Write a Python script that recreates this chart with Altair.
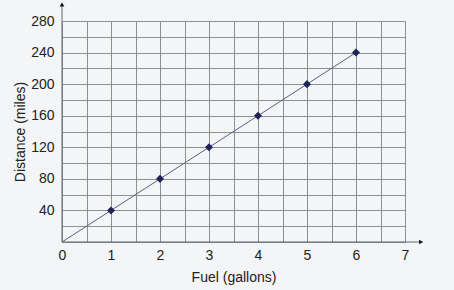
import altair as alt
import pandas as pd

# Data
fuel = [0, 1, 2, 3, 4, 5, 6]
distance = [0, 40, 80, 120, 160, 200, 240]
point_fuel = [1, 2, 3, 4, 5, 6]
point_distance = [40, 80, 120, 160, 200, 240]
x_grid = [0, 0.5, 1, 1.5, 2, 2.5, 3, 3.5, 4, 4.5, 5, 5.5, 6, 6.5, 7]
y_grid = [0, 20, 40, 60, 80, 100, 120, 140, 160, 180, 200, 220, 240, 260, 280]

line_df = pd.DataFrame({"fuel": fuel, "distance": distance})
pts_df = pd.DataFrame({"fuel": point_fuel, "distance": point_distance})

# axis arrows in data units (extending slightly beyond the domain)
yaxis_df = pd.DataFrame({"fuel": [0], "distance": [0], "d2": [302]})
xaxis_df = pd.DataFrame({"fuel": [0], "f2": [7.33], "distance": [0]})
yarrow_df = pd.DataFrame({"fuel": [0], "distance": [301]})
xarrow_df = pd.DataFrame({"fuel": [7.33], "distance": [0]})

xs = alt.Scale(domain=[0, 7], nice=False, zero=False)
ys = alt.Scale(domain=[0, 280], nice=False, zero=False)

FONT = "Liberation Sans"

x_axis = alt.Axis(
    values=x_grid,
    labelExpr="datum.value % 1 == 0 ? format(datum.value, 'd') : ''",
    grid=True, gridColor="#858585", gridWidth=0.9,
    domain=False, ticks=False,
    labelFontSize=14, labelColor="#222222", labelFont=FONT, labelPadding=6,
    labelFlush=False, labelOverlap=False, labelBound=False,
    title="Fuel (gallons)", titleFontSize=14, titleFont=FONT,
    titleColor="#222222", titleFontWeight="normal", titlePadding=8,
)
y_axis = alt.Axis(
    values=y_grid,
    labelExpr="(datum.value % 40 == 0 && datum.value > 0) ? format(datum.value, 'd') : ''",
    grid=True, gridColor="#858585", gridWidth=0.9,
    domain=False, ticks=False,
    labelFontSize=14, labelColor="#222222", labelFont=FONT, labelPadding=8,
    labelFlush=False, labelOverlap=False, labelBound=False,
    title="Distance (miles)", titleFontSize=14, titleFont=FONT,
    titleColor="#222222", titleFontWeight="normal", titlePadding=3,
)

X = alt.X("fuel:Q", scale=xs, axis=x_axis)
Y = alt.Y("distance:Q", scale=ys, axis=y_axis)

base_line = alt.Chart(line_df).mark_line(color="#5a5f80", strokeWidth=1).encode(x=X, y=Y)

points = alt.Chart(pts_df).mark_point(
    shape="diamond", filled=True, size=65, color="#1e2458", opacity=1
).encode(x=X, y=Y)

y_rule = alt.Chart(yaxis_df).mark_rule(color="#666666", strokeWidth=1).encode(
    x=X, y=Y, y2="d2:Q"
)
x_rule = alt.Chart(xaxis_df).mark_rule(color="#666666", strokeWidth=1).encode(
    x=X, x2="f2:Q", y=Y
)
y_arrow = alt.Chart(yarrow_df).mark_point(
    shape="triangle-up", filled=True, size=22, color="#111111", opacity=1
).encode(x=X, y=Y)
x_arrow = alt.Chart(xarrow_df).mark_point(
    shape="triangle-right", filled=True, size=22, color="#111111", opacity=1
).encode(x=X, y=Y)

chart = alt.layer(base_line, y_rule, x_rule, y_arrow, x_arrow, points).properties(
    width=343, height=221,
    autosize=alt.AutoSizeParams(type="none"),
    padding={"left": 62, "top": 21, "right": 49, "bottom": 48},
    background="#f4f5f7",
).configure_view(stroke=None)

chart.save("out.html", embed_options={"renderer": "svg", "actions": False})
